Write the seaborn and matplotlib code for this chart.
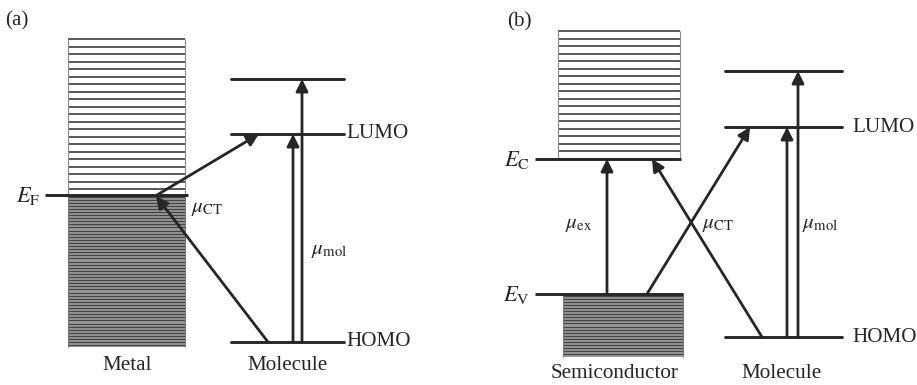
import numpy as np
import pandas as pd
import matplotlib
matplotlib.use("Agg")
import matplotlib.pyplot as plt
import seaborn as sns

# ---------------- data (diagram coordinates, y grows downward) ----------------
panel_labels = ["(a)", "(b)"]
solid_names = ["Metal", "Semiconductor"]
mol_name = "Molecule"
mol_level_names = ["HOMO", "LUMO"]

# panel (a): metal bands
metal_x = [68, 185]
metal_empty = [39, 195]      # empty states, top -> Fermi level
metal_filled = [195, 347]    # filled states, Fermi level -> bottom
E_F = 195
# panel (a): molecule levels (HOMO, LUMO, upper)
mol_a_x = [231, 344]
mol_a_levels = [342, 134, 79]

# panel (b): semiconductor bands
cb_x = [558, 680]
cb_band = [31, 159]
vb_x = [563, 683]
vb_band = [294, 357]
E_C = 159
E_V = 294
# panel (b): molecule levels
mol_b_x = [725, 842]
mol_b_levels = [337, 127, 71]

# ---------------- style ----------------
sns.set_theme(style="white")
plt.rcParams["font.family"] = ["Liberation Serif", "DejaVu Serif"]
plt.rcParams["mathtext.fontset"] = "stix"

INK = "#262626"
W, H = 917, 385
fig = plt.figure(figsize=(W / 100, H / 100), dpi=100)
ax = fig.add_axes([0, 0, 1, 1])

LW = 2.1
FS = 15.2


def sparse_band(x, band, step=7.5):
    ys = np.arange(band[0], band[1] + 0.1, step)
    ax.hlines(ys, x[0], x[1], color="#444444", lw=1.25)
    ax.vlines(x, band[0], band[1], color="#8a8a8a", lw=0.8)


def dense_band(x, band, step=3.1):
    ax.fill_between(x, band[0], band[1], color="#9a9a9a", lw=0)
    ys = np.arange(band[0] + 1.5, band[1], step)
    ax.hlines(ys, x[0], x[1], color="#454545", lw=0.9)
    ax.vlines(x, band[0], band[1], color="#777777", lw=0.8)


def arrow(p0, p1):
    ax.annotate("", xy=p1, xytext=p0,
                arrowprops=dict(arrowstyle="-|>", color=INK, lw=2.0,
                                mutation_scale=18, shrinkA=0, shrinkB=0))


# molecule levels drawn through seaborn
rows = []
for panel, xs, levels in [("a", mol_a_x, mol_a_levels), ("b", mol_b_x, mol_b_levels)]:
    for i, lv in enumerate(levels):
        for xv in xs:
            rows.append(dict(unit=f"{panel}{i}", x=xv, y=lv))
lev_df = pd.DataFrame(rows)
sns.lineplot(data=lev_df, x="x", y="y", units="unit", estimator=None,
             color=INK, lw=LW, ax=ax, legend=False, sort=False)
ax.set_xlim(0, W)
ax.set_ylim(H, 0)
ax.axis("off")

# ---------------- panel (a) ----------------
sparse_band(metal_x, metal_empty)
dense_band(metal_x, metal_filled)
ax.hlines(E_F, 45, metal_x[1] + 3, color=INK, lw=LW)
ax.text(40, E_F + 1, r"$E_{\mathrm{F}}$", fontsize=FS + 1, ha="right", va="center")
ax.text(5, 21, panel_labels[0], fontsize=FS, ha="left", va="center")

# charge-transfer arrows
arrow((157, E_F), (259, mol_a_levels[1]))
arrow((268, mol_a_levels[0]), (156, E_F + 1))
# molecular excitations
arrow((293, mol_a_levels[0]), (293, mol_a_levels[1]))
arrow((302, mol_a_levels[0]), (302, mol_a_levels[2]))

ax.text(191, 208, r"$\mu_{\mathrm{CT}}$", fontsize=FS, ha="left", va="center")
ax.text(311, 250, r"$\mu_{\mathrm{mol}}$", fontsize=FS, ha="left", va="center")
ax.text(mol_a_x[1] + 2, mol_a_levels[1], mol_level_names[1], fontsize=FS, ha="left", va="center")
ax.text(mol_a_x[1] + 2, mol_a_levels[0], mol_level_names[0], fontsize=FS, ha="left", va="center")
ax.text(127, 366, solid_names[0], fontsize=FS, ha="center", va="center")
ax.text(288, 366, mol_name, fontsize=FS, ha="center", va="center")

# ---------------- panel (b) ----------------
sparse_band(cb_x, cb_band)
dense_band(vb_x, vb_band)
ax.hlines(E_C, 535, cb_x[1] + 1, color=INK, lw=LW)
ax.hlines(E_V, 535, vb_x[1], color=INK, lw=LW)
ax.text(530, E_C + 1, r"$E_{\mathrm{C}}$", fontsize=FS + 1, ha="right", va="center")
ax.text(530, E_V + 1, r"$E_{\mathrm{V}}$", fontsize=FS + 1, ha="right", va="center")
ax.text(507, 22, panel_labels[1], fontsize=FS, ha="left", va="center")

# exciton
arrow((607, E_V), (607, E_C))
# charge-transfer arrows
arrow((647, E_V), (750, mol_b_levels[1]))
arrow((762, mol_b_levels[0]), (652, E_C))
# molecular excitations
arrow((787, mol_b_levels[0]), (787, mol_b_levels[1]))
arrow((798, mol_b_levels[0]), (798, mol_b_levels[2]))

ax.text(565, 224, r"$\mu_{\mathrm{ex}}$", fontsize=FS, ha="left", va="center")
ax.text(702, 224, r"$\mu_{\mathrm{CT}}$", fontsize=FS, ha="left", va="center")
ax.text(802, 224, r"$\mu_{\mathrm{mol}}$", fontsize=FS, ha="left", va="center")
ax.text(mol_b_x[1] + 10, mol_b_levels[1], mol_level_names[1], fontsize=FS, ha="left", va="center")
ax.text(mol_b_x[1] + 10, mol_b_levels[0], mol_level_names[0], fontsize=FS, ha="left", va="center")
ax.text(615, 373, solid_names[1], fontsize=FS, ha="center", va="center")
ax.text(782, 373, mol_name, fontsize=FS, ha="center", va="center")

fig.savefig("out.png", dpi=100, facecolor="white")
